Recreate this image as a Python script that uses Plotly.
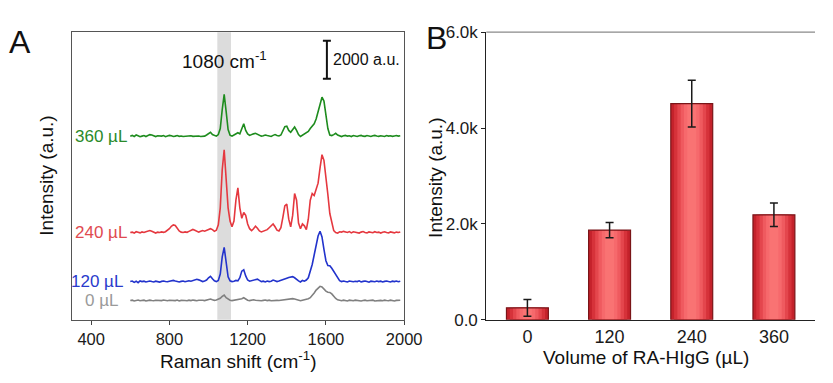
import plotly.graph_objects as go

# ---------------- DATA ----------------
raman_shift = list(range(600, 1990, 10))  # cm^-1 sample positions

# intensity above each trace's own baseline (a.u.)
spec_360 = [0, 40, -20, 60, 20, -30, 0, 30, -20, 40,
            80, 60, 0, -20, 20, -10, 0, 30, -30, 10,
            40, 20, -20, 0, 30, -10, 10, -20, 0, 20,
            40, 20, -10, 0, 30, 10, -20, -10, 0, 60,
            150, 200, 80, 20, 0, 80, 400, 1400, 2200, 1300,
            350, 50, 0, 60, 100, 180, 120, 450, 650, 300,
            120, 40, 60, 120, 150, 100, 40, 0, 20, 60,
            30, 0, -20, 40, 80, 30, 10, 60, 250, 500,
            520, 300, 200, 350, 480, 300, 80, -20, 40, 100,
            150, 250, 400, 500, 650, 900, 1300, 1800, 2050, 1850,
            1200, 400, 60, 30, 80, 150, 60, 0, -20, 20,
            40, 0, 20, -20, 30, 10, -20, 20, 40, 0,
            -10, 30, 0, -20, 20, 40, 10, -10, 20, 0,
            -20, 30, 0, 20, -10, 10, 30, 0, 20]
spec_240 = [0, 20, -30, 40, 10, -20, 30, 0, 40, 80,
            100, 60, 0, -30, 20, 0, 30, 10, 40, 100,
            200, 330, 400, 370, 220, 80, 20, 0, 30, 10,
            60, 100, 160, 120, 50, 20, 60, 100, 70, 100,
            170, 200, 150, 60, 120, 400, 1300, 3300, 4350, 3000,
            1300, 600, 300, 600, 1700, 2350, 1300, 750, 1050, 900,
            450, 200, 100, 200, 330, 220, 80, 30, 60, 100,
            150, 250, 380, 450, 300, 120, 80, 250, 800, 1400,
            1500, 700, 300, 900, 2050, 1700, 500, 200, 450, 350,
            150, 700, 1700, 2050, 1950, 2300, 2600, 3400, 4100, 3800,
            3000, 2000, 1000, 450, 100, 0, -30, 40, 20, 60,
            30, 0, 50, -20, 40, 20, 0, -30, 20, 50,
            0, -20, 30, 10, -10, 40, 0, 20, -30, 10,
            40, 0, -20, 30, 10, -20, 20, 0, 30]
spec_120 = [0, 30, -40, 20, -60, 30, 0, 20, -20, 10,
            30, 0, -20, 20, 0, -30, 10, 30, 0, -10,
            20, 40, 60, 30, 0, -20, 10, 30, -10, 20,
            40, 20, 60, 100, 120, 90, 40, 0, 30, 80,
            200, 280, 150, 40, 0, 60, 400, 1300, 1800, 1000,
            250, 40, 0, 20, 60, 40, 200, 550, 620, 300,
            80, 20, 40, 60, 100, 130, 60, 0, 20, -20,
            30, 0, 20, 80, 40, 0, 30, 60, 80, 150,
            180, 220, 250, 260, 200, 100, 40, -20, 60, 20,
            80, 200, 500, 900, 1400, 1900, 2400, 2650, 2350, 1700,
            1100, 850, 830, 700, 550, 380, 200, 50, 0, 30,
            0, -20, 30, 10, -10, 20, 0, 40, -20, 10,
            30, 0, -30, 20, 10, -10, 30, 0, 20, -20,
            10, 30, 0, -20, 20, 0, 30, -10, 20]
spec_0 = [0, 20, -20, 10, 30, -10, 0, 20, -20, 10,
          20, 0, -10, 20, 10, -20, 0, 30, 0, -10,
          20, 10, -10, 0, 30, -20, 10, 20, 0, -10,
          20, 0, 30, 10, -10, 20, 40, 20, 0, 40,
          60, 80, 40, 10, 30, 60, 120, 220, 290, 150,
          60, 20, 0, 20, 30, 20, 40, 100, 150, 80,
          20, 0, 30, 40, 20, 0, 20, -10, 10, 30,
          0, 20, -10, 10, 30, 10, 0, 20, 40, 30,
          60, 80, 90, 100, 80, 40, 10, -10, 20, 40,
          60, 100, 150, 250, 400, 550, 680, 750, 720, 600,
          500, 440, 430, 350, 220, 110, 40, 0, -10, 20,
          0, -20, 20, 10, -10, 20, 0, 10, -20, 0,
          20, -10, 10, 0, 20, -20, 0, 30, 10, -10,
          20, 0, -10, 20, 10, -20, 10, 0, 20]

spectra_labels = ["0 µL", "120 µL", "240 µL", "360 µL"]
spectra = [spec_0, spec_120, spec_240, spec_360]
baselines = [1015, 2015, 4600, 9675]          # vertical stacking offsets (a.u.)
spectra_colors = ["#808080", "#2233cc", "#e5383f", "#1e8c1e"]
label_colors = ["#9a9a9a", "#2a3acc", "#e04a50", "#2a8a2a"]

band_range = [1045, 1115]                      # highlighted 1080 cm-1 band
scale_bar_center = [1605, 13700]
scale_bar_half = 1000                          # 2000 a.u. bar

volumes = ["0", "120", "240", "360"]
bar_mean = [250, 1870, 4510, 2190]
bar_err = [175, 160, 490, 245]

FONT = "Liberation Sans, Arial, sans-serif"
OFF = 8            # default page body margin around the figure
W, H = 833 - OFF, 383 - OFF


def px(x):
    return (x - OFF) / W


def py(y):
    return 1 - (y - OFF) / H


fig = go.Figure()

# ---------------- Panel A ----------------
for lab, vals, base, col in zip(spectra_labels, spectra, baselines, spectra_colors):
    fig.add_trace(go.Scatter(x=raman_shift, y=[v + base for v in vals], mode="lines",
                             line=dict(color=col, width=1.6), xaxis="x", yaxis="y",
                             showlegend=False, name=lab))

fig.add_trace(go.Scatter(x=[scale_bar_center[0]], y=[scale_bar_center[1]], mode="markers",
                         marker=dict(size=1, color="rgba(0,0,0,0)"),
                         error_y=dict(type="data", array=[scale_bar_half], color="#111",
                                      thickness=2, width=4),
                         xaxis="x", yaxis="y", showlegend=False))

fig.add_shape(type="rect", xref="x", yref="y domain", x0=band_range[0], x1=band_range[1],
              y0=0, y1=1, fillcolor="#dcdcdc", line_width=0, layer="below")

# ---------------- Panel B ----------------
layers = [(0.51, "#c4222b"), (0.43, "#d6323a"), (0.35, "#e4464d"),
          (0.27, "#ef5a5f"), (0.19, "#f6696c"), (0.11, "#f97373")]
for w, c in layers:
    fig.add_trace(go.Bar(x=volumes, y=bar_mean, width=w, marker=dict(color=c, line_width=0),
                         xaxis="x2", yaxis="y2", showlegend=False))
fig.add_trace(go.Bar(x=volumes, y=bar_mean, width=0.51,
                     marker=dict(color="rgba(0,0,0,0)", line=dict(color="#7a1518", width=1.2)),
                     xaxis="x2", yaxis="y2", showlegend=False))
fig.add_trace(go.Scatter(x=volumes, y=bar_mean, mode="markers",
                         marker=dict(size=1, color="rgba(0,0,0,0)"),
                         error_y=dict(type="data", array=bar_err, color="#1a1a1a",
                                      thickness=1.5, width=4),
                         xaxis="x2", yaxis="y2", showlegend=False))

fig.add_shape(type="line", xref="x2 domain", yref="y2 domain", x0=0, x1=1, y0=1, y1=1,
              line=dict(color="#8a8a8a", width=1.2))

ydom = [py(327), py(24)]
fig.update_layout(
    width=W, height=H, margin=dict(l=0, r=0, t=0, b=0),
    paper_bgcolor="white", plot_bgcolor="white",
    font=dict(family=FONT, color="#1a1a1a"),
    barmode="overlay",
    xaxis=dict(domain=[px(73), px(413)], range=[300, 2000], tickvals=[400, 800, 1200, 1600, 2000],
               ticks="outside", ticklen=4, tickcolor="#444", showline=True, linecolor="#555",
               linewidth=1.2, mirror=True, showgrid=False, zeroline=False,
               tickfont=dict(size=16.5, color="#1a1a1a")),
    yaxis=dict(domain=ydom, range=[0, 15150], showticklabels=False, ticks="", showline=True,
               linecolor="#555", linewidth=1.2, mirror=True, showgrid=False, zeroline=False),
    xaxis2=dict(domain=[px(497), 1.0], range=[-0.5, 3.5], type="category", ticks="",
                showline=True, linecolor="#222", linewidth=1.2, showgrid=False, zeroline=False,
                tickfont=dict(size=18, color="#1a1a1a"), anchor="y2"),
    yaxis2=dict(domain=ydom, range=[0, 6000], tickvals=[0, 2000, 4000, 6000],
                ticktext=["0.0", "2.0k", "4.0k", "6.0k"], ticks="outside", ticklen=4,
                tickcolor="#222", showline=True, linecolor="#222", linewidth=1.2,
                showgrid=False, zeroline=False, anchor="x2",
                tickfont=dict(size=17, color="#1a1a1a")),
)

# text annotations on panel A data
label_x = [545, 575, 593, 593]
for lab, base, col, lx in zip(spectra_labels, baselines, label_colors, label_x):
    fig.add_annotation(x=lx, y=base, xref="x", yref="y", text=lab, showarrow=False,
                       xanchor="right", yanchor="middle",
                       font=dict(size=17, color=col, family=FONT))

fig.add_annotation(x=1080, y=13700, xref="x", yref="y", text="1080 cm<sup>-1</sup>",
                   showarrow=False, xanchor="center", yanchor="middle",
                   font=dict(size=19, color="#111", family=FONT))
fig.add_annotation(x=1625, y=13700, xref="x", yref="y", text="2000 a.u.",
                   showarrow=False, xanchor="left", yanchor="middle",
                   font=dict(size=16, color="#111", family=FONT))

# titles and panel letters (pixel positions in the photographed page)
paper_texts = [
    (47, 175, "Intensity (a.u.)", 19, -90),
    (445, 177, "Intensity (a.u.)", 19, -90),
    (243, 369, "Raman shift (cm<sup>-1</sup>)", 19, 0),
    (660, 367, "Volume of RA-HIgG (µL)", 19, 0),
    (20, 34, "A", 32, 0),
    (446, 30, "B", 32, 0),
]
for x, y, t, s, ang in paper_texts:
    fig.add_annotation(x=px(x), y=py(y), xref="paper", yref="paper", text=t, showarrow=False,
                       xanchor="center", yanchor="middle", textangle=ang,
                       font=dict(size=s, family=FONT, color="#111"))

fig.write_html("out.html")
